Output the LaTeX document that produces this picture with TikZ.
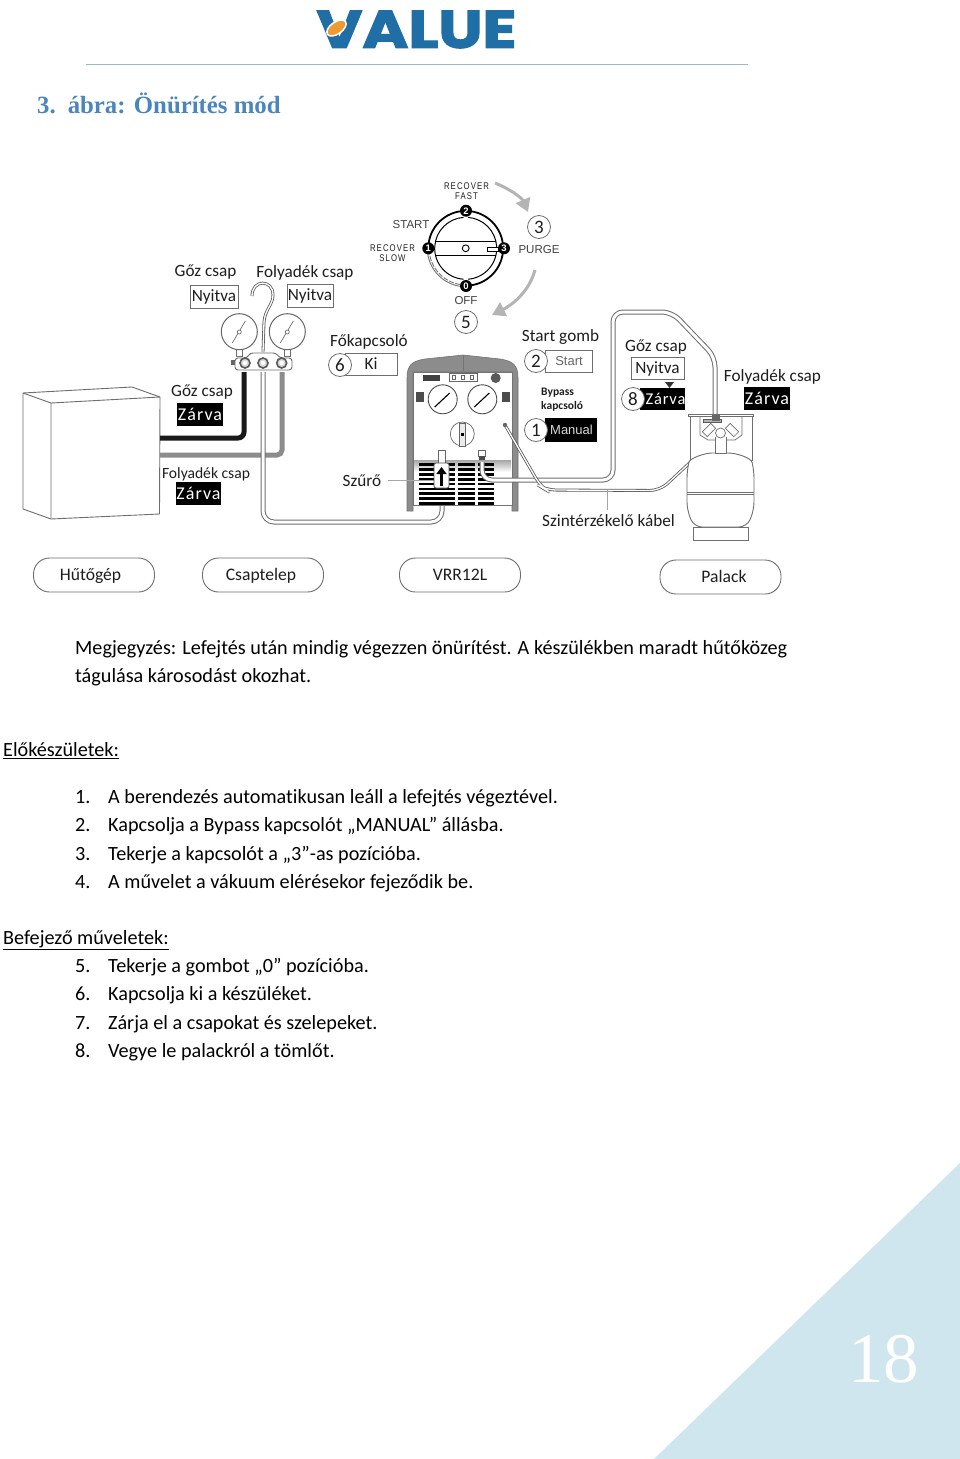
\documentclass[tikz,border=0pt]{standalone}
\usepackage{fontspec}
\setmainfont{Carlito}[Ligatures=NoCommon]
\newfontfamily\dialfont{Liberation Sans}
\newfontfamily\titlefont{Liberation Serif}
\newfontfamily\logofont{Poppins}[FakeBold=2.2]
\usetikzlibrary{arrows.meta}
\definecolor{logoblue}{HTML}{1F6EA6}
\definecolor{logoorange}{HTML}{EE9A2E}
\definecolor{titleblue}{HTML}{4A86BE}
\definecolor{ruleblue}{HTML}{9DB6C8}
\definecolor{cornerblue}{HTML}{D0E6EF}
\definecolor{labelgray}{HTML}{1E1E1E}
\definecolor{framegray}{HTML}{6E6E6E}
\definecolor{arrowgray}{HTML}{B4B4B4}
\definecolor{shellgray}{HTML}{8C8C8C}
\tikzset{
  lab/.style={font=\fontsize{17.2}{19}\selectfont,text=labelgray,inner sep=0pt},
  labs/.style={font=\fontsize{15.6}{17}\selectfont,text=labelgray,inner sep=0pt},
  wbox/.style={draw=framegray,line width=.8pt,fill=white,inner sep=0pt,font=\fontsize{17.2}{19}\selectfont,text=labelgray},
  bbox/.style={fill=black,inner sep=0pt,font=\fontsize{18}{19}\selectfont\addfontfeature{LetterSpace=6},text=white},
  numc/.style={circle,draw=framegray,line width=.8pt,fill=white,inner sep=0pt,minimum size=23pt,font=\fontsize{19}{20}\selectfont,text=labelgray},
  pill/.style={draw=framegray,line width=.9pt,rounded corners=16pt,minimum width=121pt,minimum height=34pt,inner sep=0pt,text height=11pt,text depth=0pt,font=\fontsize{17.6}{19}\selectfont,text=labelgray},
  body/.style={anchor=base west,inner sep=0pt,font=\fontsize{20.2}{22}\selectfont,text=black},
  dial/.style={inner sep=0pt,font=\fontsize{9.7}{10}\dialfont\addfontfeature{LetterSpace=14},text=labelgray,align=center},
  dialb/.style={inner sep=0pt,font=\fontsize{11.5}{12}\dialfont,text=black!75},
  dialdot/.style={circle,fill=black,inner sep=0pt,minimum size=12pt,font=\fontsize{9.5}{9}\dialfont\bfseries,text=white},
  whitetube/.style={draw=framegray,line width=1pt,double=white,double distance=3pt},
  thintube/.style={draw=black!65,line width=.8pt,double=white,double distance=1.3pt},
  graytube/.style={draw=shellgray,line width=5pt},
  blacktube/.style={draw=black!90,line width=5pt},
  leader/.style={draw=black!35,line width=.8pt},
  bigarrow/.style={draw=arrowgray,line width=3pt,-{Triangle[length=13pt,width=15pt]}},
  thing/.style={draw=framegray,line width=.9pt,fill=white},
  gline/.style={draw=framegray,line width=.7pt},
}
\begin{document}
\begin{tikzpicture}[x=1pt,y=-1pt]
\useasboundingbox (0,0) rectangle (960,1459);
\fill[white] (0,0) rectangle (960,1459);
% corner
\fill[cornerblue] (960,1163) -- (654,1459) -- (960,1459) -- cycle;
\node[inner sep=0pt,text=white,font=\fontsize{71}{75}\titlefont] (pagenum) at (883.5,1359) {18};
% header
\node[inner sep=0pt,text=logoblue,font=\fontsize{54}{54}\logofont\bfseries] (logo) at (416.5,29.5) {\scalebox{1.16}[.98]{VALUE}};
\draw[logoorange,fill=logoorange,draw=white,line width=1.5pt,rotate around={35:(336.5,28)}] (336.5,28) ellipse (11pt and 6pt);
\draw[ruleblue,line width=1pt] (86,64) -- (748,64);
\node[anchor=base west,inner sep=0pt,text=titleblue,font=\fontsize{24.8}{26}\titlefont\bfseries] (title) at (37,113) {3.\hspace{12pt}ábra: Önürítés mód};
% refrigeration unit
\coordinate (tubeL1) at (160,438);
\coordinate (tubeL2) at (160,455);
\draw[thing,line join=round] (23,393) -- (132,387) -- (160,397) -- (159.5,514) -- (51,519) -- (23,509) -- cycle;
\draw[gline,line width=.9pt] (23,393) -- (51,403) -- (160,397) (51,403) -- (51,519);
% manifold tubes
\coordinate (m1) at (244,372); \coordinate (m2) at (263,372); \coordinate (m3) at (282,372);
\draw[graytube,rounded corners=5pt] (tubeL2) -- (282,455) -- (m3);
\draw[blacktube,rounded corners=6pt] (tubeL1) -- (244,438) -- (m1);
% white tube manifold -> compressor
\coordinate (filterb) at (442,488);
\draw[whitetube,rounded corners=11pt] (m2) -- (263,522) -- (442,522) -- (filterb);
% hook
\draw[thintube] (263,352) -- (264,322) .. controls (265,309) and (273,305) .. (273,295) .. controls (273,279) and (252,279) .. (252,296);
% gauges
\foreach \n/\x in {ga/239.3,gb/287.3}{
  \fill[white,draw=framegray,line width=.6pt] (\x-3,349) rectangle (\x+3,356);
  \draw[draw=black!60,line width=1pt,fill=white] (\x,331.7) circle (18);
  \draw[gline] (\x-7,343) -- (\x+6,321);
  \draw[gline,fill=white] (\x,332) circle (2);
}
% manifold body
\draw[thing,rounded corners=3pt] (235,358) -- (247,358) -- (250,353) -- (276,353) -- (280,358) -- (292,358) -- (292,370) -- (235,370) -- cycle;
\fill[black!60] (231,360) rectangle (235,365);
\foreach \x in {245,263,281.7}{
  \draw[draw=black!65,line width=1.6pt,fill=black!15] (\x,363) circle (5);
  \fill[white] (\x,363) circle (2.2);
}
% compressor
\path[fill=shellgray,draw=black!55,line width=.6pt] (407,511) -- (407,378) .. controls (407,365) and (412,361) .. (425,359) -- (463,355) -- (500,359) .. controls (513,361) and (518,365) .. (518,378) -- (518,511) -- (512,511) -- (512,372) -- (413,372) -- (413,511) -- cycle;
\draw[black!55,line width=.6pt] (463,355) -- (463,371);
\draw[black!55,line width=.6pt,fill=white] (413,505) rectangle (512,372);
\shade[top color=black!35,bottom color=white] (414,460) rectangle (511,472);
\foreach \y in {463,467.9,472.8,477.7,482.6,487.5,492.4,497.3,502.2}{
  \fill[black] (419,\y) rectangle (455,\y+2.8);
  \fill[black] (458,\y) rectangle (475,\y+2.8);
  \fill[black] (478,\y) rectangle (494,\y+2.8);
}
\fill[black!75] (423,375) rectangle (440,381);
\draw[black!60,line width=.7pt,fill=white] (449,373) rectangle (477,381);
\foreach \x in {454,463,472}{\draw[black!60,line width=.6pt] (\x-1.5,375) rectangle (\x+1.5,379);}
\fill[black!65] (495.7,378) circle (5);
\fill[black!70] (416,392) rectangle (424,402);
\fill[black!70] (502,392) rectangle (510,402);
\foreach \x in {442.7,482.3}{
  \draw[draw=black!70,line width=.9pt,fill=white] (\x,399.3) circle (14.5);
  \draw[black,line width=1.1pt] (\x-8,407) -- (\x+7,393);
}
\draw[draw=black!60,line width=.7pt,fill=white] (462.3,434) circle (12);
\draw[black!60,line width=.7pt,fill=black!8] (459.5,423) rectangle (465,446);
\fill[black] (461,433) rectangle (464,436);
% vapor tube compressor -> tank
\coordinate (portB) at (482,456);
\coordinate (tankin) at (715,415);
\draw[whitetube,rounded corners=10pt] (482,462) -- (482,480) -- (613,480) -- (613,312) -- (672,312) -- (715,357) -- (tankin);
\draw[black!60,line width=.6pt,fill=white] (478.5,450) rectangle (485.5,456);
\fill[black!70] (479,456) rectangle (485,460);
% level cable
\coordinate (lvlA) at (505,425);
\coordinate (lvlB) at (698,455);
\draw[thintube,rounded corners=10pt] (lvlA) -- (541,487) -- (546,490) -- (660,490.5) -- (lvlB);
\fill[black!60] (lvlA) circle (2.2);
% filter
\draw[black!60,line width=.7pt,fill=white] (438,450) rectangle (445,463);
\draw[leader] (388,480) -- (434,480);
\node[draw=black!70,line width=.8pt,fill=white,rounded corners=2pt,minimum width=15pt,minimum height=25pt,inner sep=0pt] (filter) at (441.5,475.5) {};
\draw[black,line width=3.4pt,-{Triangle[length=7pt,width=10pt]}] (441.5,486) -- (441.5,467);
% cylinder
\draw[thing] (690,417) -- (690,460) -- (752,460) -- (752,417);
\draw[gline] (700,417) -- (700,435) -- (708,440) -- (735,440) -- (742,435) -- (742,417);
\draw[thing] (693,527) rectangle (748,540);
\draw[thing,rounded corners=8pt] (694,527) -- (687,510) -- (687,470) .. controls (690,458) and (705,453) .. (720,453) .. controls (737,453) and (751,458) .. (754,470) -- (754,510) -- (747,527) -- cycle;
\draw[gline] (687,492) -- (754,492);
\draw[gline] (687,494) -- (754,494);
\draw[thing] (688,414) rectangle (753,416.5);
\draw[gline,fill=white] (715,437) -- (715,453) -- (726,453) -- (726,437);
\draw[thing,line width=.7pt,rotate around={45:(709,430)}] (703,426.5) rectangle (715,433.5);
\draw[thing,line width=.7pt,rotate around={-45:(732,430)}] (726,426.5) rectangle (738,433.5);
\draw[gline,fill=white] (720.5,433) circle (5);
\draw[draw=black!65,line width=.7pt,fill=black!30] (703,419) rectangle (721,422);
\fill[black!60] (712,415) rectangle (720,421);
\draw[leader] (607,490) -- (607,510);
% dial
\coordinate (dc) at (465.7,248.3);
\draw[draw=black,line width=1.8pt] (dc) ++(-90:37.4) arc (-90:-180:37.4);
\draw[draw=black,line width=1.8pt] (dc) ++(90:37.4) arc (90:-90:37.4);
\draw[draw=white,line width=3pt] (dc) ++(178:37.4) arc (178:92:37.4);
\draw[draw=black!55,line width=.9pt,dash pattern=on 5pt off 1.5pt] (dc) ++(178:36.6) arc (178:92:36.6);
\draw[draw=black!55,line width=.9pt] (dc) ++(178:38.4) arc (178:92:38.4);
\draw[black,line width=1pt] (dc) ++(86:31) arc (86:-86:31);
\draw[black,line width=1pt] (dc) ++(94:31) arc (94:266:31);
\draw[black,line width=1pt] (435.4,241.7) -- (496,241.7) (435.4,255) -- (496,255);
\draw[black,line width=.9pt,fill=white] (dc) circle (3.4);
\draw[black,line width=.8pt,fill=white] (487,247) rectangle (498,251);
\node[dialdot] (d2) at (466,210.7) {2};
\node[dialdot] (d1) at (428.3,248.3) {1};
\node[dialdot] (d3) at (504,248.3) {3};
\node[dialdot] (d0) at (466,286) {0};
\node[dial] (lfast) at (466.5,191) {\scalebox{.8}[1]{RECOVER}\\\scalebox{.8}[1]{FAST}};
\node[dialb] (lstart) at (411,225) {START};
\node[dial] (lslow) at (392.5,253.5) {\scalebox{.8}[1]{RECOVER}\\\scalebox{.8}[1]{SLOW}};
\node[dialb] (lpurge) at (539,249.5) {PURGE};
\node[dialb] (loff) at (466,300.5) {OFF};
\node[numc] (n3) at (539,227) {3};
\node[numc] (n5) at (466,322) {5};
\coordinate (arA) at (495,183); \coordinate (arB) at (528,212);
\coordinate (arC) at (535,270); \coordinate (arD) at (492,315);
\draw[bigarrow] (arA) .. controls (510,189) and (522,198) .. (arB);
\draw[bigarrow] (arC) .. controls (529,292) and (512,305) .. (arD);
% labels
\node[lab] (l1) at (205.5,272.5) {Gőz csap};
\node[wbox,minimum width=48pt,minimum height=23pt] (b1) at (214,296.5) {Nyitva};
\node[lab] (l2) at (305,273) {Folyadék csap};
\node[wbox,minimum width=46pt,minimum height=23pt] (b2) at (310,296) {Nyitva};
\node[lab] (l3) at (369,342) {Főkapcsoló};
\node[wbox,minimum width=52pt,minimum height=22pt] (b3) at (371,364) {Ki\hspace{6pt}};
\node[numc] (n6) at (340,365) {6};
\node[lab] (l4) at (202,392) {Gőz csap};
\node[bbox,minimum width=46pt,minimum height=23pt] (b4) at (200,414.5) {Zárva};
\node[labs] (l5) at (206,474) {Folyadék csap};
\node[bbox,minimum width=45pt,minimum height=23pt] (b5) at (198.5,493.5) {Zárva};
\node[lab] (l6) at (362,481) {Szűrő};
\node[lab] (l7) at (560.5,337) {Start gomb};
\node[wbox,minimum width=47pt,minimum height=22pt,font=\fontsize{13}{15}\dialfont,text=black!60] (b7) at (568.5,361) {\hspace{1pt}Start};
\node[numc] (n2) at (536,361) {2};
\node[anchor=west,inner sep=0pt,align=left,font=\fontsize{11.5}{14}\selectfont\bfseries,text=labelgray] (l8) at (541,400) {Bypass\\kapcsoló};
\node[fill=black,inner sep=0pt,minimum width=52pt,minimum height=24pt,font=\fontsize{13}{15}\dialfont,text=black!15] (b8) at (571,430) {\hspace{1pt}Manual};
\node[numc] (n1) at (536,430) {1};
\node[lab] (l9) at (656,347) {Gőz csap};
\node[wbox,minimum width=53pt,minimum height=22pt] (b9) at (657.5,368.5) {Nyitva};
\fill[black!80] (665,382) -- (674,382) -- (669.5,388) -- cycle;
\node[bbox,minimum width=45pt,minimum height=22pt,font=\fontsize{16.5}{19}\selectfont\addfontfeature{LetterSpace=5}] (b10) at (662.5,399) {\hspace{6pt}Zárva};
\node[numc] (n8) at (633,399) {8};
\node[lab] (l10) at (772.5,377) {Folyadék csap};
\node[bbox,minimum width=46pt,minimum height=23pt] (b11) at (767,398.5) {Zárva};
\node[lab] (l11) at (608.5,521) {Szintérzékelő kábel};
% pills
\node[pill] (p1) at (94,575) {\hspace{-7pt}Hűtőgép};
\node[pill] (p2) at (263,575) {\hspace{-4pt}Csaptelep};
\node[pill] (p3) at (460,575) {VRR12L};
\node[pill] (p4) at (720.5,577) {\hspace{7pt}Palack};
% text
\node[body] (t1) at (75,654.5) {Megjegyzés: Lefejtés után mindig végezzen önürítést. A készülékben maradt hűtőközeg};
\node[body] (t2) at (75,682.5) {tágulása károsodást okozhat.};
\node[body] (t3) at (3,756.5) {\underline{Előkészületek:}};
\foreach \n/\y/\num/\txt in {
  a/803/1./{A berendezés automatikusan leáll a lefejtés végeztével.},
  b/831.5/2./{Kapcsolja a Bypass kapcsolót „MANUAL” állásba.},
  c/860/3./{Tekerje a kapcsolót a „3”-as pozícióba.},
  d/888/4./{A művelet a vákuum elérésekor fejeződik be.},
  e/972.5/5./{Tekerje a gombot „0” pozícióba.},
  f/1000.5/6./{Kapcsolja ki a készüléket.},
  g/1029/7./{Zárja el a csapokat és szelepeket.},
  h/1057.5/8./{Vegye le palackról a tömlőt.}}{
  \node[body] (num\n) at (75,\y) {\num};
  \node[body] (item\n) at (108,\y) {\txt};
}
\node[body] (t4) at (3,944.5) {\underline{Befejező műveletek:}};
\end{tikzpicture}
\end{document}
